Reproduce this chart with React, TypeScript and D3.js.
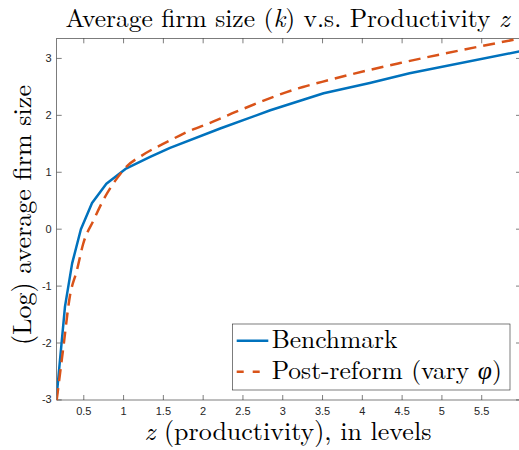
import { useEffect, useRef } from "react";
import * as d3 from "d3";

// Benchmark (solid blue)
const benchZ = [0.166, 0.27, 0.36, 0.47, 0.61, 0.79, 1.03, 1.34, 1.59, 2.22, 2.85, 3.52, 4.1, 4.6, 6.0];
const benchK = [-2.93, -1.37, -0.61, -0.01, 0.45, 0.79, 1.05, 1.26, 1.42, 1.76, 2.08, 2.38, 2.56, 2.73, 3.12];

// Post-reform (dashed red)
const reformZ = [0.166, 0.25, 0.33, 0.42, 0.5, 0.63, 0.75, 0.9, 1.05, 1.23, 1.59, 1.76, 2.13, 2.43, 3.26, 3.5, 4.1, 4.48, 6.0];
const reformK = [-3.01, -2.08, -1.2, -0.73, -0.26, 0.15, 0.5, 0.84, 1.1, 1.28, 1.55, 1.67, 1.88, 2.06, 2.49, 2.58, 2.79, 2.91, 3.345];

const xTicks = [0.5, 1, 1.5, 2, 2.5, 3, 3.5, 4, 4.5, 5, 5.5];
const yTicks = [-3, -2, -1, 0, 1, 2, 3];

const seriesNames = ["Benchmark", "Post-reform (vary "];

const BLUE = "#0072BD";
const RED = "#D95319";
const AXIS = "#262626";
const SERIF = "'Latin Modern Roman', 'CMU Serif', 'Nimbus Roman', 'TeX Gyre Termes', 'Noto Serif', 'FreeSerif', 'Liberation Serif', 'DejaVu Serif', Times, serif";
const GREEK = "'CMU Serif', 'Liberation Serif', 'DejaVu Serif', serif";
const SANS = "'Liberation Sans', Arial, sans-serif";

const App = () => {
    const chartRef = useRef<SVGSVGElement>(null);

    useEffect(() => {
        const svg = d3.select(chartRef.current);
        svg.selectAll("*").remove();

        const left = 56.7, right = 521, top = 38.3, bottom = 400;

        const x = d3.scaleLinear().domain([0.166, 6.0]).range([left, right]);
        const y = d3.scaleLinear().domain([-3.01, 3.345]).range([bottom, top]);

        svg.append("rect").attr("width", 519).attr("height", 450).attr("fill", "#fff");

        svg.append("defs").append("clipPath").attr("id", "plot-clip")
            .append("rect")
            .attr("x", left).attr("y", top - 2)
            .attr("width", right - left).attr("height", bottom - top + 4);

        // axes
        const fmt = (d: d3.NumberValue) => String(d);
        const styleAxis = (g: d3.Selection<SVGGElement, unknown, null, undefined>) => {
            g.attr("font-family", SANS).attr("font-size", 11);
            g.select(".domain").remove();
            g.selectAll(".tick line").attr("stroke", AXIS).attr("stroke-width", 0.6);
            g.selectAll(".tick text").attr("fill", AXIS);
        };

        svg.append("g")
            .attr("transform", `translate(0,${bottom})`)
            .call(d3.axisBottom(x).tickValues(xTicks).tickSize(-5).tickPadding(7).tickFormat(fmt))
            .call(styleAxis);
        svg.append("g")
            .attr("transform", `translate(0,${top})`)
            .call(d3.axisTop(x).tickValues(xTicks).tickSize(-5).tickFormat(() => ""))
            .call(styleAxis);
        svg.append("g")
            .attr("transform", `translate(${left},0)`)
            .call(d3.axisLeft(y).tickValues(yTicks).tickSize(-5).tickPadding(5).tickFormat(fmt))
            .call(styleAxis);
        svg.append("g")
            .attr("transform", `translate(${right},0)`)
            .call(d3.axisRight(y).tickValues(yTicks).tickSize(-5).tickFormat(() => ""))
            .call(styleAxis);

        svg.append("rect")
            .attr("x", left).attr("y", top)
            .attr("width", right - left).attr("height", bottom - top)
            .attr("fill", "none").attr("stroke", AXIS).attr("stroke-width", 0.6);

        // lines
        const bench = benchZ.map((z, i) => [z, benchK[i]] as [number, number]);
        const reform = reformZ.map((z, i) => [z, reformK[i]] as [number, number]);

        const plot = svg.append("g").attr("clip-path", "url(#plot-clip)");

        plot.append("path")
            .datum(bench)
            .attr("d", d3.line().x(d => x(d[0])).y(d => y(d[1])))
            .attr("fill", "none")
            .attr("stroke", BLUE)
            .attr("stroke-width", 2.5)
            .attr("stroke-linejoin", "round");

        plot.append("path")
            .datum(reform)
            .attr("d", d3.line().curve(d3.curveMonotoneX).x(d => x(d[0])).y(d => y(d[1])))
            .attr("fill", "none")
            .attr("stroke", RED)
            .attr("stroke-width", 2.5)
            .attr("stroke-dasharray", "12,7");

        // title
        const title = svg.append("text")
            .attr("x", 287.5)
            .attr("y", 27)
            .attr("text-anchor", "middle")
            .attr("fill", "#000")
            .style("font-family", SERIF)
            .style("font-size", "25.5px");
        title.append("tspan").text("Average firm size (");
        title.append("tspan").style("font-style", "italic").text("k");
        title.append("tspan").text(") v.s. Productivity ");
        title.append("tspan").style("font-style", "italic").text("z");

        // x label
        const xl = svg.append("text")
            .attr("x", 288)
            .attr("y", 440)
            .attr("text-anchor", "middle")
            .attr("fill", "#000")
            .style("font-family", SERIF)
            .style("font-size", "26px");
        xl.append("tspan").style("font-style", "italic").text("z");
        xl.append("tspan").text(" (productivity), in levels");

        // y label
        svg.append("text")
            .attr("transform", `translate(31,215) rotate(-90)`)
            .attr("text-anchor", "middle")
            .attr("fill", "#000")
            .style("font-family", SERIF)
            .style("font-size", "26px")
            .text("(Log) average firm size");

        // legend
        const legend = svg.append("g");
        legend.append("rect")
            .attr("x", 232.3).attr("y", 324)
            .attr("width", 277.7).attr("height", 66)
            .attr("fill", "#fff")
            .attr("stroke", AXIS).attr("stroke-width", 0.6);

        legend.append("line")
            .attr("x1", 236.7).attr("x2", 268.3)
            .attr("y1", 340.7).attr("y2", 340.7)
            .attr("stroke", BLUE).attr("stroke-width", 2.5);
        legend.append("text")
            .attr("x", 271.7).attr("y", 347.5)
            .attr("fill", "#000")
            .style("font-family", SERIF)
            .style("font-size", "25.5px")
            .text(seriesNames[0]);

        legend.append("line")
            .attr("x1", 236.7).attr("x2", 268.3)
            .attr("y1", 371.7).attr("y2", 371.7)
            .attr("stroke", RED).attr("stroke-width", 2.5)
            .attr("stroke-dasharray", "7,9");
        const t2 = legend.append("text")
            .attr("x", 271.7).attr("y", 378.5)
            .attr("fill", "#000")
            .style("font-family", SERIF)
            .style("font-size", "25.5px");
        t2.append("tspan").text(seriesNames[1]);
        t2.append("tspan")
            .style("font-family", GREEK)
            .style("font-style", "italic")
            .text("φ");
        t2.append("tspan").text(")");

        return () => {
            d3.select(chartRef.current).selectAll("*").remove();
        };
    }, []);

    return (
        <svg
            ref={chartRef}
            width={519}
            height={450}
            style={{ position: "absolute", left: 0, top: 0 }}
        />
    );
};

export default App;
